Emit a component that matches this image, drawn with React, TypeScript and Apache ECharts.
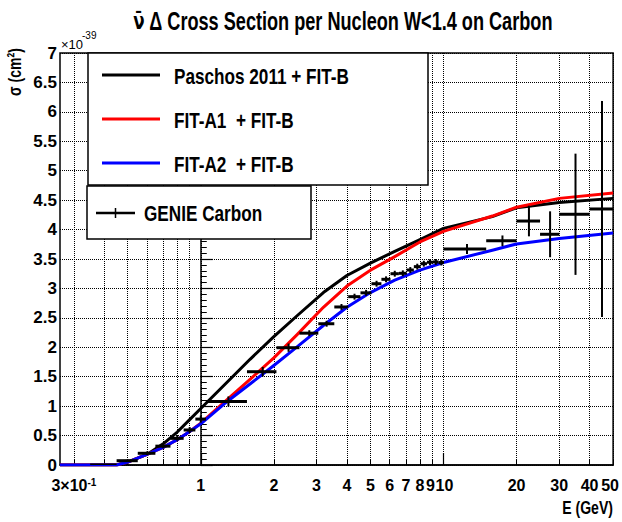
import React, { useEffect, useRef } from "react";
import * as echarts from "echarts";

// ---------- axis ranges / ticks ----------
const X_MIN_E = 0.263;
const X_MAX_E = 50;
const Y_MIN = 0;
const Y_MAX = 7;
const Y_STEP = 0.5;

const xGridE = [0.3, 0.4, 0.5, 0.6, 0.7, 0.8, 0.9, 1, 2, 3, 4, 5, 6, 7, 8, 9, 10, 20, 30, 40, 50];
const xLabelE = [0.3, 1, 2, 3, 4, 5, 6, 7, 8, 9, 10, 20, 30, 40, 50];
const xMajorE = [1, 10];

// ---------- curves (sigma in 1e-39 cm^2) ----------
const curveE = [0.263, 0.35, 0.45, 0.5, 0.6, 0.7, 0.8, 0.9, 1.0, 1.25, 1.6, 2.0, 2.5, 3.2, 4.0, 5.0, 6.3, 8.0, 10, 15.9, 20, 30, 50];
const paschosS = [0, 0, 0, 0.05, 0.18, 0.36, 0.56, 0.77, 0.96, 1.36, 1.8, 2.18, 2.54, 2.93, 3.22, 3.43, 3.63, 3.83, 4.02, 4.22, 4.37, 4.46, 4.53];
const fitA1S = [0, 0, 0, 0.05, 0.18, 0.3, 0.43, 0.57, 0.71, 1.07, 1.46, 1.82, 2.22, 2.68, 3.04, 3.31, 3.54, 3.79, 3.97, 4.23, 4.38, 4.53, 4.62];
const fitA2S = [0, 0, 0, 0.05, 0.18, 0.3, 0.43, 0.57, 0.7, 1.04, 1.38, 1.69, 2.01, 2.37, 2.68, 2.93, 3.14, 3.31, 3.44, 3.65, 3.755, 3.85, 3.94];

// ---------- GENIE Carbon points (bin edges, centre, value, error) ----------
const genieLow = [0.35, 0.45, 0.55, 0.65, 0.75, 0.85, 0.95, 1.05, 1.55, 2.05, 2.55, 3.05, 3.55, 4.05, 4.55, 5.05, 5.55, 6.05, 6.55, 7.05, 7.55, 8.05, 8.55, 9.05, 9.55, 10, 15, 20, 25, 30, 40];
const genieHigh = [0.45, 0.55, 0.65, 0.75, 0.85, 0.95, 1.05, 1.55, 2.05, 2.55, 3.05, 3.55, 4.05, 4.55, 5.05, 5.55, 6.05, 6.55, 7.05, 7.55, 8.05, 8.55, 9.05, 9.55, 10.05, 15, 20, 25, 30, 40, 50];
const genieCenter = [0.4, 0.5, 0.6, 0.7, 0.8, 0.9, 1.0, 1.3, 1.8, 2.3, 2.8, 3.3, 3.8, 4.3, 4.8, 5.3, 5.8, 6.3, 6.8, 7.3, 7.8, 8.3, 8.8, 9.3, 9.8, 12.5, 17.5, 22.5, 27.5, 35, 45];
const genieSigma = [0.0, 0.073, 0.199, 0.32, 0.453, 0.595, 0.78, 1.08, 1.585, 1.993, 2.24, 2.4, 2.685, 2.86, 2.925, 3.08, 3.155, 3.25, 3.257, 3.313, 3.37, 3.42, 3.445, 3.45, 3.44, 3.67, 3.81, 4.145, 3.92, 4.26, 4.35];
const genieErr = [0.01, 0.02, 0.03, 0.035, 0.04, 0.05, 0.06, 0.085, 0.08, 0.07, 0.05, 0.05, 0.05, 0.05, 0.05, 0.05, 0.05, 0.05, 0.05, 0.05, 0.05, 0.05, 0.05, 0.05, 0.05, 0.085, 0.09, 0.26, 0.39, 1.03, 1.835];

const TITLE_NU = "\u03BD\u0304";
const TITLE_REST = " \u0394 Cross Section per Nucleon W<1.4 on Carbon";
const legendCurves = [
  { name: "Paschos 2011 + FIT-B", color: "#000000" },
  { name: "FIT-A1  + FIT-B", color: "#ff0000" },
  { name: "FIT-A2  + FIT-B", color: "#0000ff" },
];
const genieName = "GENIE Carbon";

const FONT = "'Liberation Sans', Arial, Helvetica, sans-serif";

const lg = (v: number) => Math.log10(v);
const toLine = (xs: number[], ys: number[]) => xs.map((x, i) => [lg(x), ys[i]]);

export default function App() {
  const ref = useRef<HTMLDivElement>(null);

  useEffect(() => {
    document.body.style.margin = "0";
    const chart = echarts.init(ref.current!, undefined, { renderer: "svg" });

    const genieData = genieCenter.map((c, i) => [lg(genieLow[i]), lg(genieHigh[i]), lg(c), genieSigma[i], genieErr[i]]);

    const curveSeries = [paschosS, fitA1S, fitA2S].map((ys, i) => ({
      type: "line",
      name: legendCurves[i].name,
      data: toLine(curveE, ys),
      showSymbol: false,
      smooth: false,
      lineStyle: { color: legendCurves[i].color, width: 3, join: "round" },
      itemStyle: { color: legendCurves[i].color },
      z: 3 + i,
      silent: true,
    }));

    const textBase = { fontFamily: FONT, fontWeight: "bold", fill: "#000" };

    const graphics: any[] = [
      {
        type: "text", x: 343, y: 21, scaleX: 0.725, z: 20,
        style: {
          ...textBase,
          text: `{n|${TITLE_NU}}{t|${TITLE_REST}}`,
          fontSize: 25, align: "center", verticalAlign: "middle",
          rich: {
            n: { fontFamily: "'DejaVu Sans', sans-serif", fontWeight: "bold", fontSize: 23, fill: "#000" },
            t: { fontFamily: FONT, fontWeight: "bold", fontSize: 25, fill: "#000" },
          },
        },
      },
      {
        type: "text", x: 15, y: 72, rotation: Math.PI / 2, scaleX: 0.74, z: 20,
        style: { ...textBase, text: "\u03C3 (cm\u00B2)", fontSize: 19, align: "center", verticalAlign: "middle" },
      },
      {
        type: "text", x: 613, y: 508, scaleX: 0.74, z: 20,
        style: { ...textBase, text: "E (GeV)", fontSize: 19, align: "right", verticalAlign: "middle" },
      },
      {
        type: "text", x: 61, y: 44, z: 20,
        style: { fontFamily: FONT, fill: "#000", text: "\u00D710", fontSize: 13, align: "left", verticalAlign: "middle" },
      },
      {
        type: "text", x: 82, y: 35, z: 20,
        style: { fontFamily: FONT, fill: "#000", text: "-39", fontSize: 10, align: "left", verticalAlign: "middle" },
      },
      {
        type: "rect", z: 10,
        shape: { x: 88, y: 53, width: 340, height: 132 },
        style: { fill: "#fff", stroke: "#000", lineWidth: 1.5 },
      },
      {
        type: "rect", z: 10,
        shape: { x: 87, y: 186, width: 224, height: 53 },
        style: { fill: "#fff", stroke: "#000", lineWidth: 1.5 },
      },
      {
        type: "line", z: 11,
        shape: { x1: 96, y1: 213, x2: 135, y2: 213 },
        style: { stroke: "#000", lineWidth: 2.5 },
      },
      {
        type: "line", z: 11,
        shape: { x1: 115.5, y1: 208, x2: 115.5, y2: 218 },
        style: { stroke: "#000", lineWidth: 1.5 },
      },
      {
        type: "text", x: 144, y: 213, scaleX: 0.78, z: 11,
        style: { ...textBase, text: genieName, fontSize: 22, align: "left", verticalAlign: "middle" },
      },
    ];
    legendCurves.forEach((c, i) => {
      const y = 75 + i * 44;
      graphics.push({
        type: "line", z: 11,
        shape: { x1: 102, y1: y, x2: 160, y2: y },
        style: { stroke: c.color, lineWidth: 3 },
      });
      graphics.push({
        type: "text", x: 174, y: y + 1, scaleX: 0.78, z: 11,
        style: { ...textBase, text: c.name, fontSize: 22, align: "left", verticalAlign: "middle" },
      });
    });

    const nearestLabel = (v: number) =>
      xLabelE.reduce((b, c) => (Math.abs(lg(c) - v) < Math.abs(lg(b) - v) ? c : b), xLabelE[0]);

    const dotted = { color: "#000", width: 1, type: "dotted" as const };
    const lab = { fontFamily: FONT, fontWeight: "bold", fontSize: 16, color: "#000" };

    const option: any = {
      animation: false,
      backgroundColor: "#fff",
      grid: {
        left: 60, right: 7, top: 53, bottom: 57,
        show: true, borderColor: "#000", borderWidth: 1.5,
        containLabel: false,
      },
      xAxis: [
        {
          type: "value",
          min: lg(X_MIN_E),
          max: lg(X_MAX_E),
          axisLine: { show: true, onZero: false, lineStyle: { color: "#000", width: 1.5 } },
          axisTick: {
            show: true, inside: true, length: 6,
            customValues: xGridE.map(lg),
            lineStyle: { color: "#000", width: 1 },
          },
          axisLabel: {
            show: true,
            customValues: xLabelE.map(lg),
            margin: 12,
            ...lab,
            showMinLabel: true,
            showMaxLabel: true,
            hideOverlap: false,
            formatter: (v: number) => {
              const m = nearestLabel(v);
              if (m < 1) return `{a|${Math.round(m * 10)}\u00D710}{b|-1}`;
              if (m === 9) return `{l|9}`;
              if (m === 10) return `{r|10}`;
              if (m === 50) return `{e|50}`;
              return String(m);
            },
            rich: {
              a: { ...lab, verticalAlign: "bottom" },
              b: { ...lab, fontSize: 10, verticalAlign: "top" },
              l: { ...lab, padding: [0, 4, 0, 0] },
              r: { ...lab, padding: [0, 0, 0, 2] },
              e: { ...lab, padding: [0, 6, 0, 0] },
            },
          },
          splitLine: { show: true, lineStyle: dotted },
        },
        {
          type: "value",
          min: lg(X_MIN_E),
          max: lg(X_MAX_E),
          position: "bottom",
          axisLine: { show: false },
          axisLabel: { show: false },
          splitLine: { show: false },
          axisTick: {
            show: true, inside: true, length: 12,
            customValues: xMajorE.map(lg),
            lineStyle: { color: "#000", width: 1.2 },
          },
        },
      ],
      yAxis: {
        type: "value",
        min: Y_MIN,
        max: Y_MAX,
        interval: Y_STEP,
        axisLine: { show: true, lineStyle: { color: "#000", width: 1.5 } },
        axisTick: { show: true, inside: true, length: 12, lineStyle: { color: "#000", width: 1.2 } },
        minorTick: { show: true, splitNumber: 5, length: 6, lineStyle: { color: "#000", width: 1 } },
        axisLabel: {
          margin: 3,
          ...lab,
          fontSize: 17,
          formatter: (v: number) => String(v),
        },
        splitLine: { show: true, lineStyle: dotted },
      },
      series: [
        ...curveSeries,
        {
          type: "custom",
          name: genieName,
          xAxisIndex: 0,
          yAxisIndex: 0,
          z: 8,
          silent: true,
          clip: true,
          encode: { x: [0, 1, 2], y: [3] },
          data: genieData,
          renderItem: (_params: any, api: any) => {
            const y = api.value(3);
            const e = api.value(4);
            const lo = api.coord([api.value(0), y]);
            const hi = api.coord([api.value(1), y]);
            const top = api.coord([api.value(2), y + e]);
            const bot = api.coord([api.value(2), Math.max(0, y - e)]);
            return {
              type: "group",
              children: [
                { type: "line", shape: { x1: lo[0], y1: lo[1], x2: hi[0], y2: hi[1] }, style: { stroke: "#000", lineWidth: 3 } },
                { type: "line", shape: { x1: top[0], y1: top[1], x2: bot[0], y2: bot[1] }, style: { stroke: "#000", lineWidth: 2 } },
              ],
            };
          },
        },
      ],
      graphic: graphics,
    };

    chart.setOption(option);
    return () => chart.dispose();
  }, []);

  return (
    <div
      ref={ref}
      style={{ position: "fixed", left: 0, top: 0, width: 622, height: 522, background: "#fff" }}
    />
  );
}
